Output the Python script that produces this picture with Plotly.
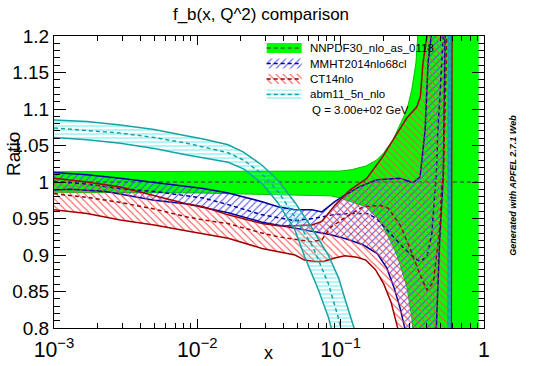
import plotly.graph_objects as go

# ---------------- data (ratio to NNPDF central) ----------------
nn_x = [0.001, 0.01, 0.05, 0.085, 0.1, 0.12, 0.15, 0.178, 0.2, 0.232, 0.25, 0.29, 0.313, 0.335, 0.345, 0.36, 0.92]
nn_hi = [1.014, 1.014, 1.015, 1.015, 1.015, 1.017, 1.022, 1.03, 1.04, 1.058, 1.071, 1.099, 1.126, 1.163, 1.2, 1.3, 1.3]
nn_lo = [0.986, 0.985, 0.982, 0.981, 0.978, 0.973, 0.966, 0.952, 0.937, 0.912, 0.897, 0.856, 0.815, 0.76, 0.72, 0.7, 0.7]
nn_cx = [0.001, 0.92]
nn_c = [1.0, 1.0]

mm_up_x = [0.001, 0.0017, 0.0029, 0.005, 0.0085, 0.011, 0.0164, 0.0283, 0.0366, 0.048, 0.063, 0.074, 0.091, 0.107, 0.137, 0.179, 0.26, 0.32, 0.358, 0.376, 0.388, 0.407, 0.428, 0.44]
mm_up = [1.013, 1.010, 1.005, 0.999, 0.994, 0.991, 0.985, 0.973, 0.966, 0.962, 0.962, 0.959, 0.973, 0.982, 0.994, 1.003, 1.005, 0.999, 1.007, 1.044, 1.071, 1.163, 1.2, 1.3]
mm_c_x = [0.001, 0.0017, 0.0029, 0.005, 0.011, 0.0164, 0.0283, 0.048, 0.064, 0.088, 0.116, 0.153, 0.178, 0.22, 0.271, 0.318, 0.358, 0.40, 0.433, 0.444, 0.456, 0.465, 0.475, 0.50, 0.52, 0.53]
mm_c = [1.001, 0.997, 0.991, 0.987, 0.978, 0.969, 0.955, 0.947, 0.950, 0.955, 0.957, 0.957, 0.950, 0.930, 0.911, 0.898, 0.891, 0.898, 0.930, 0.96, 0.99, 1.01, 1.065, 1.14, 1.2, 1.3]
mm_lo_x = [0.001, 0.0013, 0.0023, 0.004, 0.005, 0.0085, 0.011, 0.0164, 0.0283, 0.048, 0.084, 0.11, 0.143, 0.18, 0.21, 0.235, 0.26, 0.28, 0.29, 0.45, 0.465, 0.49, 0.52, 0.535, 0.545]
mm_lo = [0.989, 0.990, 0.987, 0.978, 0.975, 0.970, 0.965, 0.958, 0.945, 0.937, 0.928, 0.922, 0.914, 0.902, 0.882, 0.856, 0.827, 0.80, 0.7, 0.7, 0.80, 0.918, 1.009, 1.2, 1.3]

ct_up_x = [0.001, 0.0017, 0.0029, 0.005, 0.0085, 0.011, 0.0164, 0.0283, 0.0366, 0.048, 0.063, 0.074, 0.091, 0.107, 0.116, 0.152, 0.17, 0.197, 0.25, 0.29, 0.34, 0.36, 0.375, 0.40, 0.41]
ct_up = [1.005, 1.000, 0.993, 0.981, 0.970, 0.966, 0.955, 0.943, 0.940, 0.940, 0.941, 0.946, 0.968, 0.982, 0.989, 1.005, 1.018, 1.035, 1.068, 1.088, 1.103, 1.117, 1.163, 1.2, 1.3]
ct_c_x = [0.001, 0.0017, 0.0029, 0.005, 0.0085, 0.011, 0.0164, 0.0283, 0.0366, 0.048, 0.063, 0.074, 0.085, 0.105, 0.143, 0.188, 0.215, 0.26, 0.305, 0.358, 0.40, 0.444, 0.465, 0.494, 0.504, 0.521, 0.55, 0.56]
ct_c = [0.984, 0.979, 0.972, 0.963, 0.952, 0.948, 0.943, 0.930, 0.925, 0.921, 0.918, 0.921, 0.938, 0.950, 0.966, 0.968, 0.964, 0.941, 0.909, 0.873, 0.852, 0.863, 0.895, 0.941, 0.987, 1.009, 1.2, 1.3]
ct_lo_x = [0.001, 0.0017, 0.0029, 0.005, 0.0085, 0.011, 0.0164, 0.0283, 0.048, 0.056, 0.065, 0.076, 0.091, 0.107, 0.13, 0.15, 0.175, 0.2, 0.225, 0.25, 0.26, 0.59, 0.6]
ct_lo = [0.962, 0.957, 0.948, 0.941, 0.933, 0.929, 0.923, 0.909, 0.900, 0.893, 0.891, 0.891, 0.896, 0.899, 0.897, 0.893, 0.88, 0.86, 0.835, 0.80, 0.7, 0.7, 1.3]

ab_up_x = [0.001, 0.0017, 0.0029, 0.005, 0.0085, 0.011, 0.0164, 0.021, 0.0283, 0.0366, 0.048, 0.063, 0.082, 0.097, 0.107, 0.116, 0.124, 0.13, 0.58, 0.585]
ab_up = [1.085, 1.083, 1.078, 1.072, 1.063, 1.059, 1.051, 1.041, 1.023, 1.002, 0.972, 0.937, 0.9, 0.868, 0.840, 0.818, 0.80, 0.7, 0.7, 1.3]
ab_c_x = [0.001, 0.0017, 0.0029, 0.005, 0.0085, 0.011, 0.0164, 0.021, 0.0283, 0.0366, 0.048, 0.064, 0.082, 0.096, 0.101, 0.106, 0.57, 0.575]
ab_c = [1.074, 1.071, 1.067, 1.061, 1.053, 1.048, 1.040, 1.03, 1.011, 0.987, 0.952, 0.911, 0.861, 0.815, 0.797, 0.7, 0.7, 1.3]
ab_lo_x = [0.001, 0.0017, 0.0029, 0.005, 0.0085, 0.011, 0.0164, 0.021, 0.0283, 0.0366, 0.048, 0.056, 0.070, 0.082, 0.086, 0.09, 0.56, 0.565]
ab_lo = [1.061, 1.058, 1.053, 1.046, 1.037, 1.033, 1.027, 1.018, 0.998, 0.971, 0.934, 0.898, 0.852, 0.815, 0.80, 0.7, 0.7, 1.3]

set_names = ["NNPDF30_nlo_as_0118", "MMHT2014nlo68cl", "CT14nlo", "abm11_5n_nlo"]
q_label = "Q = 3.00e+02 GeV"

# ---------------- styles ----------------
GREEN = "#00ff00"
NN_LINE = "#2f6f2f"
MM_LINE, MM_HATCH = "#00009c", "#4848ff"
CT_LINE, CT_HATCH = "#a00000", "#ff4848"
AB_LINE, AB_HATCH = "#17a3a3", "#40e8e8"
DASH = "4px,3px"

fig = go.Figure()


def band(xu, yu, xl, yl, **kw):
    fig.add_trace(go.Scatter(x=list(xu) + list(xl)[::-1], y=list(yu) + list(yl)[::-1],
                             mode="none", fill="toself", hoverinfo="skip", **kw))


def line(x, y, color, dash=None, width=1.5):
    fig.add_trace(go.Scatter(x=x, y=y, mode="lines", hoverinfo="skip",
                             line=dict(color=color, width=width, dash=dash)))


def hatch(shape, color, size):
    return dict(shape=shape, fgcolor=color, size=size, solidity=0.2, fillmode="replace")


MM_PAT = hatch("/", MM_HATCH, 5)
CT_PAT = hatch("\\", CT_HATCH, 5)
AB_PAT = hatch("-", AB_HATCH, 4)

# NNPDF
band(nn_x, nn_hi, nn_x, nn_lo, fillcolor=GREEN)
line(nn_x, nn_hi, "#00c000", width=1)
line(nn_x, nn_lo, "#00c000", width=1)
line(nn_cx, nn_c, NN_LINE, DASH, 1.3)

# MMHT
band(mm_up_x, mm_up, mm_lo_x, mm_lo, fillcolor="rgba(0,0,0,0)", fillpattern=MM_PAT)
line(mm_up_x, mm_up, MM_LINE)
line(mm_lo_x, mm_lo, MM_LINE)
line(mm_c_x, mm_c, MM_LINE, DASH)

# CT14
band(ct_up_x, ct_up, ct_lo_x, ct_lo, fillcolor="rgba(0,0,0,0)", fillpattern=CT_PAT)
line(ct_up_x, ct_up, CT_LINE)
line(ct_lo_x, ct_lo, CT_LINE)
line(ct_c_x, ct_c, CT_LINE, DASH)

# abm
band(ab_up_x, ab_up, ab_lo_x, ab_lo, fillcolor="rgba(0,0,0,0)", fillpattern=AB_PAT)
line(ab_up_x, ab_up, AB_LINE)
line(ab_lo_x, ab_lo, AB_LINE)
line(ab_c_x, ab_c, AB_LINE, DASH)

# ---------------- manual legend (overlay axes in 0..1 plot fractions) ----------------
lx0, lx1 = 0.4947, 0.576
rows = [0.9589, 0.9058, 0.8527, 0.7997]
hh = 0.0171
leg_styles = [
    dict(fillcolor=GREEN),
    dict(fillcolor="rgba(0,0,0,0)", fillpattern=MM_PAT),
    dict(fillcolor="rgba(0,0,0,0)", fillpattern=CT_PAT),
    dict(fillcolor="rgba(0,0,0,0)", fillpattern=AB_PAT),
]
leg_lines = [NN_LINE, MM_LINE, CT_LINE, AB_LINE]
for yc, st, lc in zip(rows, leg_styles, leg_lines):
    fig.add_trace(go.Scatter(x=[lx0, lx1, lx1, lx0, lx0], y=[yc - hh, yc - hh, yc + hh, yc + hh, yc - hh],
                             mode="none", fill="toself", xaxis="x2", yaxis="y2", hoverinfo="skip", **st))
    fig.add_trace(go.Scatter(x=[lx0, lx1], y=[yc, yc], mode="lines", xaxis="x2", yaxis="y2",
                             hoverinfo="skip", line=dict(color=lc, width=1.3, dash=DASH)))

annotations = []
for yc, name in zip(rows, set_names):
    annotations.append(dict(x=0.5907, y=yc, xref="paper", yref="paper", text=name, showarrow=False,
                            xanchor="left", yanchor="middle", font=dict(size=11.5, color="black")))
annotations.append(dict(x=0.595, y=0.747, xref="paper", yref="paper", text=q_label, showarrow=False,
                        xanchor="left", yanchor="middle", font=dict(size=11.5, color="black")))
annotations.append(dict(x=-0.093, y=0.596, xref="paper", yref="paper", text="Ratio", showarrow=False,
                        textangle=-90, xanchor="center", yanchor="middle", font=dict(size=19, color="black")))
annotations.append(dict(x=0.498, y=-0.128, xref="paper", yref="paper", text="x", showarrow=False,
                        xanchor="center", yanchor="bottom", font=dict(size=18, color="black")))
annotations.append(dict(x=1.067, y=0.49, xref="paper", yref="paper",
                        text="<b><i>Generated with APFEL 2.7.1 Web</i></b>", showarrow=False,
                        textangle=-90, xanchor="center", yanchor="middle", font=dict(size=9, color="black")))

FIG_W, FIG_H = 540, 366
fig.update_layout(
    width=FIG_W, height=FIG_H,
    margin=dict(l=54, r=56, t=36, b=38, autoexpand=False),
    paper_bgcolor="white", plot_bgcolor="white",
    showlegend=False,
    font=dict(family="Liberation Sans, Arial, sans-serif", color="black"),
    title=dict(text="f_b(x, Q^2) comparison", x=261 / FIG_W, xanchor="center",
               y=1 - 14 / FIG_H, yanchor="middle", font=dict(size=17, color="black")),
    xaxis=dict(type="log", range=[-3, 0], dtick=1, exponentformat="power", showgrid=False, zeroline=False,
               ticks="inside", ticklen=9, tickcolor="black", showline=True, linecolor="black", linewidth=1,
               mirror="allticks", tickfont=dict(size=17), automargin=False, ticklabelstandoff=3,
               minor=dict(ticks="inside", ticklen=5, tickcolor="black", dtick="D1", showgrid=False)),
    yaxis=dict(range=[0.8, 1.2], tick0=0.8, dtick=0.05, showgrid=False, zeroline=False,
               ticks="inside", ticklen=12, tickcolor="black", showline=True, linecolor="black", linewidth=1,
               mirror="allticks", tickfont=dict(size=19), automargin=False,
               minor=dict(ticks="inside", ticklen=6, tickcolor="black", dtick=0.01, showgrid=False)),
    xaxis2=dict(range=[0, 1], overlaying="x", anchor="y2", visible=False),
    yaxis2=dict(range=[0, 1], overlaying="y", anchor="x2", visible=False),
    annotations=annotations,
)

# remove the default 8px body margin so the figure sits at the page origin
fig.write_html("out.html", config={"displayModeBar": False},
               post_script="document.body.style.margin='0px';document.body.style.overflow='hidden';")
